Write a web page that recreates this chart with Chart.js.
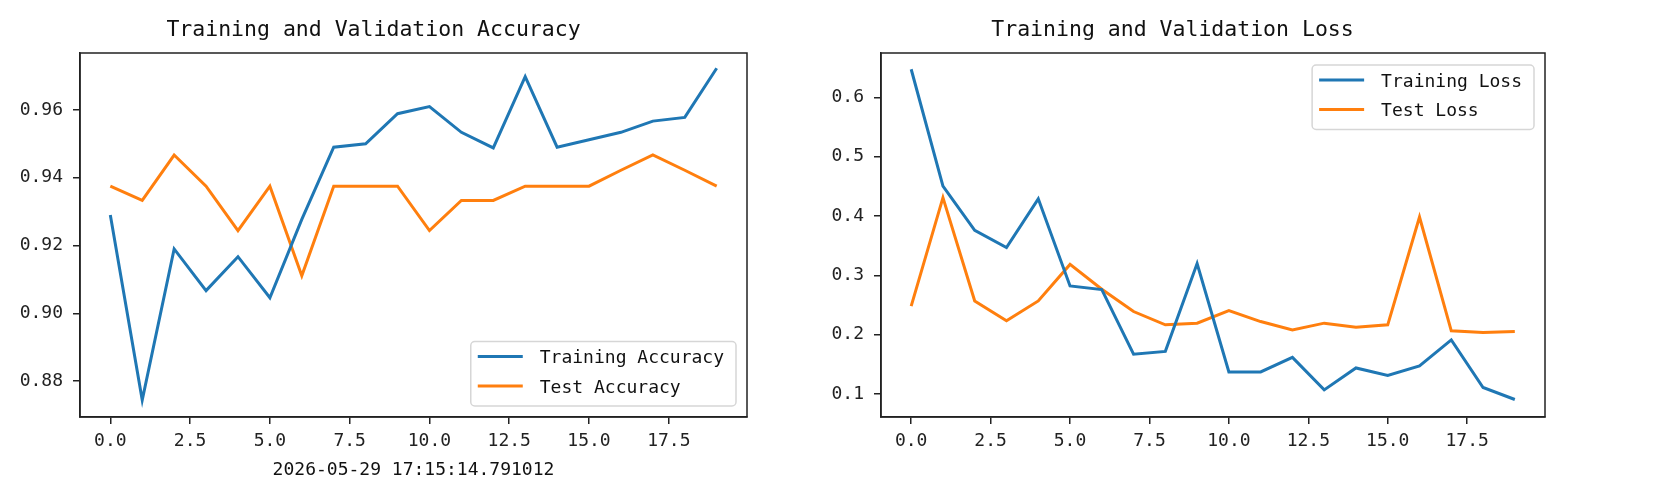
<!DOCTYPE html>
<html>
<head>
<meta charset="utf-8">
<script src="https://cdn.jsdelivr.net/npm/chart.js@4"></script>
<style>
    body { margin: 0; background: #fff; }
    #acc { position: absolute; left: 0; top: 0; }
    #loss { position: absolute; left: 800px; top: 0; }
</style>
</head>
<body>
<canvas id="acc" width="800" height="490"></canvas>
<canvas id="loss" width="860" height="490"></canvas>
<script>
const epochs = [0, 1, 2, 3, 4, 5, 6, 7, 8, 9, 10, 11, 12, 13, 14, 15, 16, 17, 18, 19];
const trainAcc = [0.929, 0.8744, 0.919, 0.9067, 0.9167, 0.9046, 0.9277, 0.949, 0.950, 0.9589,
    0.961, 0.9534, 0.9488, 0.9698, 0.949, 0.9512, 0.9534, 0.9567, 0.9578, 0.9723];
const testAcc = [0.9375, 0.9333, 0.9467, 0.9375, 0.9244, 0.9375, 0.9111, 0.9375, 0.9375, 0.9375,
    0.9244, 0.9333, 0.9333, 0.9375, 0.9375, 0.9375, 0.9422, 0.9467, 0.9422, 0.9375];
const trainLoss = [0.6476, 0.4505, 0.376, 0.347, 0.429, 0.282, 0.276, 0.167, 0.1717, 0.32,
    0.137, 0.137, 0.1616, 0.1067, 0.1437, 0.131, 0.147, 0.191, 0.1108, 0.0905];
const testLoss = [0.248, 0.431, 0.2568, 0.2232, 0.2568, 0.3184, 0.2764, 0.2389, 0.2165, 0.2193,
    0.2405, 0.222, 0.208, 0.2193, 0.2125, 0.2165, 0.3984, 0.2064, 0.2036, 0.2053];
const xTicks = [0, 2.5, 5, 7.5, 10, 12.5, 15, 17.5];
const accTicks = [0.88, 0.90, 0.92, 0.94, 0.96];
const lossTicks = [0.1, 0.2, 0.3, 0.4, 0.5, 0.6];
const stamp = "2026-05-29 17:15:14.791012";

const FONT = "'DejaVu Sans Mono', 'Liberation Mono', monospace";
const BLUE = "#1f77b4";
const ORANGE = "#ff7f0e";
const INK = "#222";

Chart.defaults.font.family = FONT;
Chart.defaults.color = INK;

// box round the plot area, like matplotlib spines
const frame = {
    id: "frame",
    afterDraw(chart) {
        const { ctx, chartArea: a } = chart;
        ctx.save();
        ctx.strokeStyle = INK;
        ctx.lineWidth = 1.5;
        ctx.strokeRect(a.left, a.top, a.right - a.left, a.bottom - a.top);
        ctx.restore();
    },
};

// legend drawn inside the plot area, in a corner
const boxLegend = {
    id: "boxLegend",
    afterDraw(chart, args, opts) {
        const { ctx, chartArea: a } = chart;
        const sets = chart.data.datasets;
        ctx.save();
        ctx.font = "18px " + FONT;
        const textW = Math.max(...sets.map((d) => ctx.measureText(d.label).width));
        const w = 7 + 45 + 17 + textW + 12;
        const h = 15 + 29.5 * (sets.length - 1) + 20;
        const x = a.right - 11 - w;
        const y = opts.corner === "top" ? a.top + 12 : a.bottom - 11 - h;
        ctx.fillStyle = "rgba(255,255,255,0.8)";
        ctx.strokeStyle = "#d6d6d6";
        ctx.lineWidth = 1.5;
        ctx.beginPath();
        ctx.roundRect(x, y, w, h, 4);
        ctx.fill();
        ctx.stroke();
        sets.forEach((d, i) => {
            const cy = y + 15 + i * 29.5;
            ctx.strokeStyle = d.borderColor;
            ctx.lineWidth = 3;
            ctx.beginPath();
            ctx.moveTo(x + 7, cy);
            ctx.lineTo(x + 52, cy);
            ctx.stroke();
            ctx.fillStyle = "#111";
            ctx.textBaseline = "middle";
            ctx.fillText(d.label, x + 69, cy + 2);
        });
        ctx.restore();
    },
};

function points(ys) {
    return epochs.map((e, i) => ({ x: e, y: ys[i] }));
}

function makeChart(id, opt) {
    return new Chart(document.getElementById(id), {
        type: "line",
        data: {
            datasets: [
                { label: opt.labels[0], data: points(opt.series[0]), borderColor: BLUE },
                { label: opt.labels[1], data: points(opt.series[1]), borderColor: ORANGE },
            ],
        },
        options: {
            responsive: false,
            animation: false,
            elements: {
                line: { borderWidth: 3, tension: 0, fill: false },
                point: { radius: 0 },
            },
            layout: { padding: { left: 0, right: opt.padRight, top: 0, bottom: 0 } },
            plugins: {
                legend: { display: false },
                tooltip: { enabled: false },
                title: {
                    display: true,
                    text: opt.title,
                    color: "#111",
                    font: { size: 21.5, weight: "normal", lineHeight: 1.2 },
                    padding: { top: 18, bottom: 9.2 },
                },
                boxLegend: { corner: opt.corner },
            },
            scales: {
                x: {
                    type: "linear",
                    min: -0.95,
                    max: 19.95,
                    afterBuildTicks: (s) => { s.ticks = xTicks.map((v) => ({ value: v })); },
                    afterFit: (s) => { s.height = 73; },
                    grid: { drawOnChartArea: false, tickLength: 7, color: INK, lineWidth: 1.5 },
                    border: { color: INK, width: 1.5 },
                    ticks: {
                        autoSkip: false,
                        maxRotation: 0,
                        padding: 7,
                        font: { size: 18 },
                        callback: (v) => Number(v).toFixed(1),
                    },
                    title: {
                        display: !!opt.xTitle,
                        text: opt.xTitle || "",
                        color: "#111",
                        font: { size: 18 },
                        padding: { top: 0, bottom: 9 },
                    },
                },
                y: {
                    min: opt.yMin,
                    max: opt.yMax,
                    afterBuildTicks: (s) => { s.ticks = opt.yTicks.map((v) => ({ value: v })); },
                    afterFit: (s) => { s.width = opt.yWidth; },
                    grid: { drawOnChartArea: false, tickLength: 7, color: INK, lineWidth: 1.5 },
                    border: { color: INK, width: 1.5 },
                    ticks: {
                        autoSkip: false,
                        padding: 10,
                        font: { size: 18 },
                        callback: (v) => Number(v).toFixed(opt.digits),
                    },
                },
            },
        },
        plugins: [frame, boxLegend],
    });
}

makeChart("acc", {
    title: "Training and Validation Accuracy",
    labels: ["Training Accuracy", "Test Accuracy"],
    series: [trainAcc, testAcc],
    yMin: 0.8694,
    yMax: 0.9768,
    yTicks: accTicks,
    digits: 2,
    yWidth: 80,
    padRight: 53,
    corner: "bottom",
    xTitle: stamp,
});

makeChart("loss", {
    title: "Training and Validation Loss",
    labels: ["Training Loss", "Test Loss"],
    series: [trainLoss, testLoss],
    yMin: 0.061,
    yMax: 0.675,
    yTicks: lossTicks,
    digits: 1,
    yWidth: 81,
    padRight: 115,
    corner: "top",
});
</script>
</body>
</html>
